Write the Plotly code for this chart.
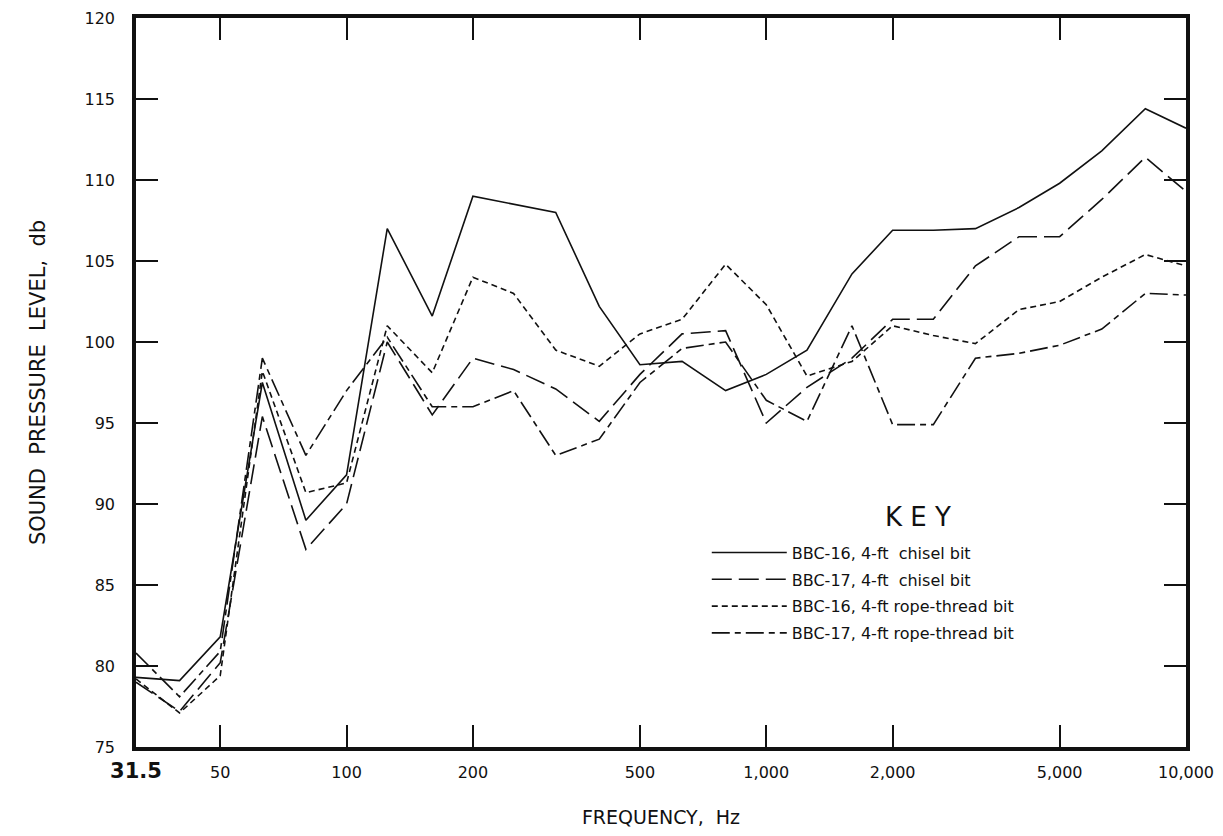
import math
import plotly.graph_objects as go

freqs = [31.5, 40, 50, 63, 80, 100, 125, 160, 200, 250, 315, 400, 500, 630,
         800, 1000, 1250, 1600, 2000, 2500, 3150, 4000, 5000, 6300, 8000, 10000]

bbc16_chisel = [79.3, 79.1, 81.8, 97.5, 89.0, 91.8, 107.0, 101.6, 109.0, 108.5, 108.0, 102.2, 98.6,
                98.8, 97.0, 98.0, 99.5, 104.2, 106.9, 106.9, 107.0, 108.3, 109.8, 111.8, 114.4, 113.2]
bbc17_chisel = [79.0, 77.2, 80.2, 95.4, 87.2, 90.0, 100.0, 95.5, 99.0, 98.3, 97.1, 95.1, 98.0,
                100.5, 100.7, 95.0, 97.2, 99.0, 101.4, 101.4, 104.7, 106.5, 106.5, 108.8, 111.4, 109.3]
bbc16_rope = [79.2, 77.1, 79.4, 98.2, 90.7, 91.3, 101.0, 98.1, 104.0, 103.0, 99.5, 98.5, 100.5,
              101.4, 104.8, 102.3, 97.9, 98.8, 101.0, 100.4, 99.9, 102.0, 102.5, 104.0, 105.4, 104.7]
bbc17_rope = [80.8, 78.1, 80.9, 99.0, 93.0, 97.0, 100.3, 96.0, 96.0, 97.0, 93.0, 94.0, 97.5,
              99.6, 100.0, 96.4, 95.1, 101.0, 94.9, 94.9, 99.0, 99.3, 99.8, 100.8, 103.0, 102.9]

series_names = ["BBC-16, 4-ft  chisel bit", "BBC-17, 4-ft  chisel bit",
                "BBC-16, 4-ft rope-thread bit", "BBC-17, 4-ft rope-thread bit"]
series_values = [bbc16_chisel, bbc17_chisel, bbc16_rope, bbc17_rope]
series_dash = ["solid", "20px,7px", "6px,4px", "18px,5px,6px,5px"]

x_tickvals = [31.5, 50, 100, 200, 500, 1000, 2000, 5000, 10000]
x_ticktext = ["<span style='font-size:21px'><b>31.5</b></span>", "50", "100", "200", "500",
              "1,000", "2,000", "5,000", "10,000"]
y_tickvals = [75, 80, 85, 90, 95, 100, 105, 110, 115, 120]

FONT = "DejaVu Sans"

fig = go.Figure()
for i, (name, vals, dash) in enumerate(zip(series_names, series_values, series_dash)):
    fig.add_trace(go.Scatter(
        x=freqs, y=vals, mode="lines", name=name,
        line=dict(color="#111111", width=1.6, dash=dash),
        legendgroup=f"g{i}",
    ))

fig.add_annotation(
    text="K E Y", xref="paper", yref="paper", x=0.745, y=0.315,
    xanchor="center", yanchor="middle", showarrow=False,
    font=dict(family=FONT, size=26, color="#111111"),
)

fig.update_layout(
    width=1223, height=836,
    margin=dict(l=128, r=45, t=10, b=97, autoexpand=False),
    paper_bgcolor="white", plot_bgcolor="white",
    font=dict(family=FONT, color="#111111", size=15),
    showlegend=True,
    legend=dict(
        x=0.5436, y=0.29, xanchor="left", yanchor="top",
        bgcolor="rgba(0,0,0,0)", borderwidth=0,
        font=dict(family=FONT, size=16, color="#111111"),
        itemwidth=75, traceorder="grouped", tracegroupgap=3,
    ),
    xaxis=dict(
        type="log", range=[math.log10(31.5), 4], automargin=False,
        tickmode="array", tickvals=x_tickvals, ticktext=x_ticktext,
        ticks="inside", ticklen=22, tickwidth=2, tickcolor="#111111",
        showline=True, linewidth=3.5, linecolor="#111111", mirror="ticks",
        showgrid=False, zeroline=False,
        tickfont=dict(family=FONT, size=16),
        ticklabelstandoff=8, ticklabeloverflow="allow",
        title=dict(text="FREQUENCY,  Hz", standoff=30,
                   font=dict(family=FONT, size=19)),
    ),
    yaxis=dict(
        range=[75, 120], tickmode="array", tickvals=y_tickvals, automargin=False,
        ticks="inside", ticklen=22, tickwidth=2, tickcolor="#111111",
        showline=True, linewidth=3.5, linecolor="#111111", mirror="ticks",
        showgrid=False, zeroline=False,
        tickfont=dict(family=FONT, size=16),
        ticklabelstandoff=14, ticklabeloverflow="allow",
        title=dict(text="SOUND  PRESSURE  LEVEL,  db", standoff=34,
                   font=dict(family=FONT, size=21)),
    ),
)

fig.write_html("out.html")
